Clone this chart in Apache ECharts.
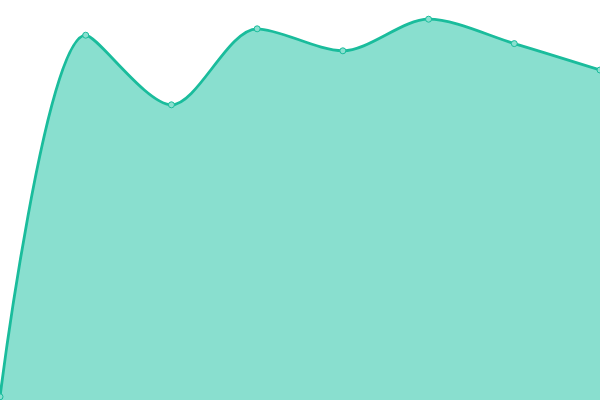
<!DOCTYPE html>
<html><head><meta charset="utf-8">
<script src="https://cdn.jsdelivr.net/npm/echarts@6/dist/echarts.min.js"></script>
<style>html,body{margin:0;padding:0;background:#fff}#c{width:600px;height:400px}</style>
</head><body><div id="c"></div>
<script>
const categories = ['1','2','3','4','5','6','7','8'];
const values = [0.8, 91.2, 73.8, 92.8, 87.3, 95.2, 89.1, 82.5];
const chart = echarts.init(document.getElementById('c'));
chart.setOption({
  animation: false,
  grid: {left: 0, right: 0, top: 0, bottom: 0},
  xAxis: {type: 'category', data: categories, boundaryGap: false, show: false},
  yAxis: {type: 'value', min: 0, max: 100, show: false},
  series: [{
    type: 'line',
    data: values,
    smooth: 0.3,
    symbol: 'circle',
    symbolSize: 6,
    lineStyle: {color: '#1abc9c', width: 2.8},
    itemStyle: {color: '#8be0d0', borderColor: '#1abc9c', borderWidth: 1},
    areaStyle: {color: '#89dfcf', opacity: 1}
  }]
});
</script></body></html>
